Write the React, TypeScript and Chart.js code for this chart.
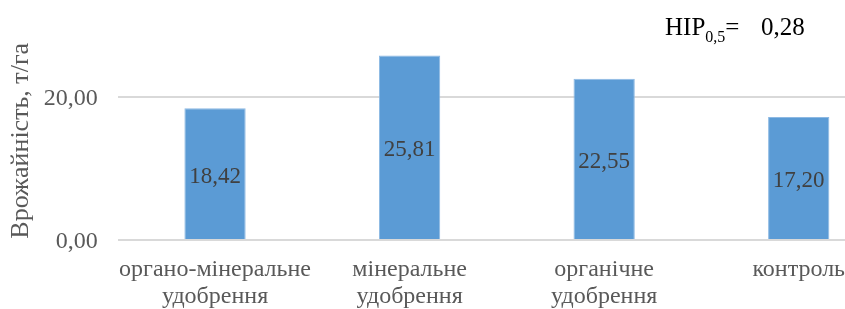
import React, { useEffect, useRef } from "react";
import { Chart, registerables } from "chart.js";

Chart.register(...registerables);

const categories: string[][] = [
  ["органо-мінеральне", "удобрення"],
  ["мінеральне", "удобрення"],
  ["органічне", "удобрення"],
  ["контроль"],
];
const yields: number[] = [18.42, 25.81, 22.55, 17.2];
const yTicks: number[] = [0, 20];
const yTitle = "Врожайність, т/га";
const hipMain = "НІР";
const hipSub = "0,5";
const hipEq = "=";
const hipValue = "0,28";

const FONT = "'Liberation Serif', 'Times New Roman', serif";
const fmt = (v: number) => v.toFixed(2).replace(".", ",");

const dataLabelPlugin = {
  id: "dataLabels",
  afterDatasetsDraw(chart: any) {
    const ctx = chart.ctx;
    const meta = chart.getDatasetMeta(0);
    ctx.save();
    ctx.font = `23px ${FONT}`;
    ctx.fillStyle = "#404040";
    ctx.textAlign = "center";
    ctx.textBaseline = "middle";
    meta.data.forEach((bar: any, i: number) => {
      const v = chart.data.datasets[0].data[i] as number;
      ctx.fillText(fmt(v), bar.x, (bar.y + bar.base) / 2 + 3);
    });
    ctx.restore();
  },
};

const textPlugin = {
  id: "extraText",
  afterDraw(chart: any) {
    const ctx = chart.ctx;
    const area = chart.chartArea;
    ctx.save();
    ctx.fillStyle = "#595959";
    ctx.font = `26px ${FONT}`;
    ctx.textAlign = "center";
    ctx.textBaseline = "middle";
    ctx.translate(21, (area.top + area.bottom) / 2 + 8);
    ctx.rotate(-Math.PI / 2);
    ctx.fillText(yTitle, 0, 0);
    ctx.restore();

    ctx.save();
    ctx.fillStyle = "#000000";
    ctx.textAlign = "left";
    ctx.textBaseline = "alphabetic";
    let x = 665;
    ctx.font = `25px ${FONT}`;
    ctx.fillText(hipMain, x, 35);
    x += ctx.measureText(hipMain).width;
    ctx.font = `16px ${FONT}`;
    ctx.fillText(hipSub, x, 42);
    x += ctx.measureText(hipSub).width;
    ctx.font = `25px ${FONT}`;
    ctx.fillText(hipEq, x, 35);
    ctx.fillText(hipValue, 761, 35);
    ctx.restore();
  },
};

export default function App() {
  const ref = useRef<HTMLCanvasElement | null>(null);
  useEffect(() => {
    if (!ref.current) return;
    const chart = new Chart(ref.current, {
      type: "bar",
      data: {
        labels: categories,
        datasets: [
          {
            data: yields,
            backgroundColor: "#5B9BD5",
            borderColor: "#8DB9E3",
            borderWidth: 1,
            categoryPercentage: 1,
            barPercentage: 0.315,
          },
        ],
      },
      options: {
        responsive: false,
        animation: false,
        devicePixelRatio: 1,
        layout: { padding: { top: 25.5, left: 0, right: 0, bottom: 0 } },
        plugins: {
          legend: { display: false },
          tooltip: { enabled: false },
          title: { display: false },
        },
        scales: {
          x: {
            grid: { display: false },
            border: { display: false },
            ticks: {
              color: "#595959",
              font: { family: FONT, size: 24, lineHeight: 1.12 },
              padding: 8,
              maxRotation: 0,
              autoSkip: false,
            },
            afterFit(scale: any) {
              scale.height = 69;
              scale.paddingLeft = 0;
              scale.paddingRight = 0;
            },
          },
          y: {
            min: 0,
            max: 30,
            border: { display: false },
            grid: { color: "#D9D9D9", lineWidth: 2, drawTicks: false },
            ticks: {
              stepSize: 20,
              color: "#595959",
              font: { family: FONT, size: 24 },
              padding: 20,
              labelOffset: 2,
              callback: (v: any) => fmt(Number(v)),
            },
            afterBuildTicks(scale: any) {
              scale.ticks = yTicks.map((v) => ({ value: v }));
            },
            afterFit(scale: any) {
              scale.width = 117.75;
              scale.paddingTop = 0;
              scale.paddingBottom = 0;
            },
          },
        },
      },
      plugins: [dataLabelPlugin, textPlugin],
    });
    return () => chart.destroy();
  }, []);

  return (
    <div
      style={{
        position: "absolute",
        left: 0,
        top: 0,
        width: 845,
        height: 309,
        overflow: "hidden",
        background: "#ffffff",
      }}
    >
      <canvas ref={ref} width={896} height={309} style={{ display: "block" }} />
    </div>
  );
}
